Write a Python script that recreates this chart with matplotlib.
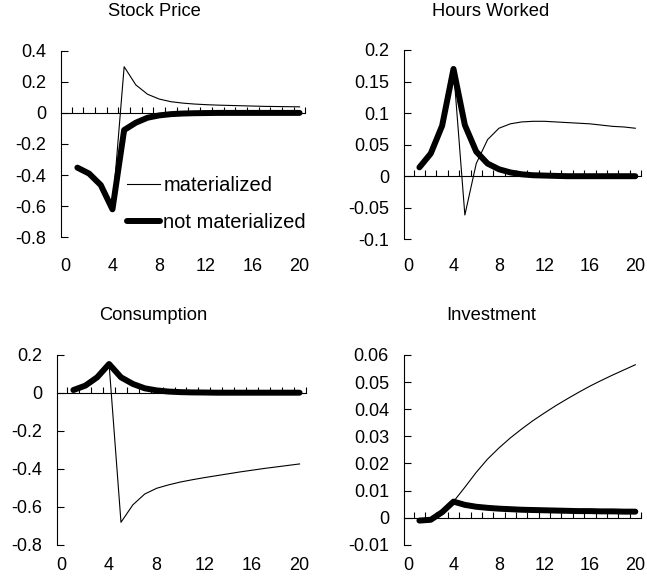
import numpy as np
import matplotlib
matplotlib.use("Agg")
import matplotlib.pyplot as plt
from matplotlib.ticker import FuncFormatter

plt.rcParams['font.family'] = ['Liberation Sans', 'DejaVu Sans']

# periods after the news shock
periods = list(range(1, 21))

stock_mat = [-0.352, -0.39, -0.464, -0.62, 0.297, 0.18, 0.12, 0.089, 0.072, 0.063,
             0.057, 0.053, 0.05, 0.048, 0.046, 0.044, 0.042, 0.041, 0.04, 0.039]
stock_not = [-0.352, -0.39, -0.464, -0.62, -0.11, -0.063, -0.031, -0.016, -0.008, -0.004,
             -0.002, -0.001, 0, 0, 0, 0, 0, 0, 0, 0]

hours_mat = [0.014, 0.036, 0.08, 0.17, -0.0615, 0.02, 0.058, 0.076, 0.083, 0.086,
             0.087, 0.087, 0.086, 0.085, 0.084, 0.083, 0.081, 0.079, 0.078, 0.076]
hours_not = [0.014, 0.036, 0.08, 0.17, 0.081, 0.039, 0.02, 0.011, 0.006, 0.003,
             0.0015, 0.001, 0.0005, 0, 0, 0, 0, 0, 0, 0]

cons_mat = [0.014, 0.037, 0.081, 0.151, -0.682, -0.59, -0.533, -0.503, -0.485, -0.47,
            -0.458, -0.447, -0.437, -0.427, -0.417, -0.408, -0.399, -0.391, -0.383, -0.375]
cons_not = [0.014, 0.037, 0.081, 0.151, 0.081, 0.046, 0.023, 0.012, 0.006, 0.003,
            0.0015, 0.001, 0, 0, 0, 0, 0, 0, 0, 0]

inv_mat = [-0.0011, -0.0008, 0.002, 0.0059, 0.0112, 0.0167, 0.0216, 0.0257, 0.0294, 0.0327,
           0.0358, 0.0386, 0.0413, 0.0438, 0.0462, 0.0485, 0.0506, 0.0526, 0.0545, 0.0564]
inv_not = [-0.0011, -0.0008, 0.002, 0.0059, 0.0047, 0.004, 0.0036, 0.0033, 0.0031, 0.0029,
           0.0028, 0.0027, 0.0026, 0.0025, 0.0024, 0.0024, 0.0023, 0.0023, 0.0022, 0.0022]

titles = ["Stock Price", "Hours Worked", "Consumption", "Investment"]
yticks = [np.arange(-0.8, 0.41, 0.2), np.arange(-0.1, 0.21, 0.05),
          np.arange(-0.8, 0.21, 0.2), np.arange(-0.01, 0.061, 0.01)]
xlabels = [0, 4, 8, 12, 16, 20]

W, H = 647, 588
fig = plt.figure(figsize=(W / 100, H / 100), dpi=100)

# axes boxes in pixels: left, right, top, bottom
boxes = [(61, 305.4, 50.7, 237.3), (403.5, 641, 50, 239.3),
         (56.7, 305.5, 354.7, 544.7), (403.5, 641, 355, 544.7)]
xpads = [15, 13.5, 9, 9]
title_pos = [(154, 11), (491, 11), (153, 316), (491, 316)]

series = [(stock_mat, stock_not), (hours_mat, hours_not),
          (cons_mat, cons_not), (inv_mat, inv_not)]

fmt = FuncFormatter(lambda v, p: f"{round(v, 4):g}" if abs(v) > 1e-9 else "0")

for i in range(4):
    l, r, t, b = boxes[i]
    ax = fig.add_axes([l / W, 1 - b / H, (r - l) / W, (b - t) / H])
    mat, nmat = series[i]
    ax.plot(periods, nmat, color='black', lw=4.3, solid_capstyle='round',
            solid_joinstyle='round', label='not materialized')
    ax.plot(periods, mat, color='black', lw=0.8, label='materialized')

    ax.set_xlim(-0.4, 20.5)
    ax.set_ylim(yticks[i][0], yticks[i][-1])
    ax.spines['top'].set_visible(False)
    ax.spines['right'].set_visible(False)
    ax.spines['bottom'].set_position(('data', 0))
    ax.spines['left'].set_linewidth(0.8)
    ax.spines['bottom'].set_linewidth(0.8)

    ax.set_xticks(np.arange(0.5, 21, 1))
    ax.tick_params(axis='x', direction='in', length=4, width=0.8, labelbottom=False)
    ax.set_yticks(yticks[i])
    ax.yaxis.set_major_formatter(fmt)
    ax.tick_params(axis='y', direction='in', length=5, width=0.8, pad=10.5, labelsize=13)

    sec = ax.secondary_xaxis(0)
    sec.spines['bottom'].set_visible(False)
    sec.set_xticks(xlabels)
    sec.tick_params(length=0, pad=xpads[i], labelsize=13)

    fig.text(title_pos[i][0] / W, 1 - title_pos[i][1] / H, titles[i],
             ha='center', va='center', fontsize=13.2)

    if i == 0:
        handles, labels = ax.get_legend_handles_labels()
        ax.legend(handles[::-1], labels[::-1], frameon=False, loc='upper left',
                  bbox_to_anchor=(0.27, 0.33), borderaxespad=0, borderpad=0,
                  handlelength=1.65, handletextpad=0.15, labelspacing=0.9,
                  fontsize=14.5)

fig.savefig("out.png", dpi=100)
